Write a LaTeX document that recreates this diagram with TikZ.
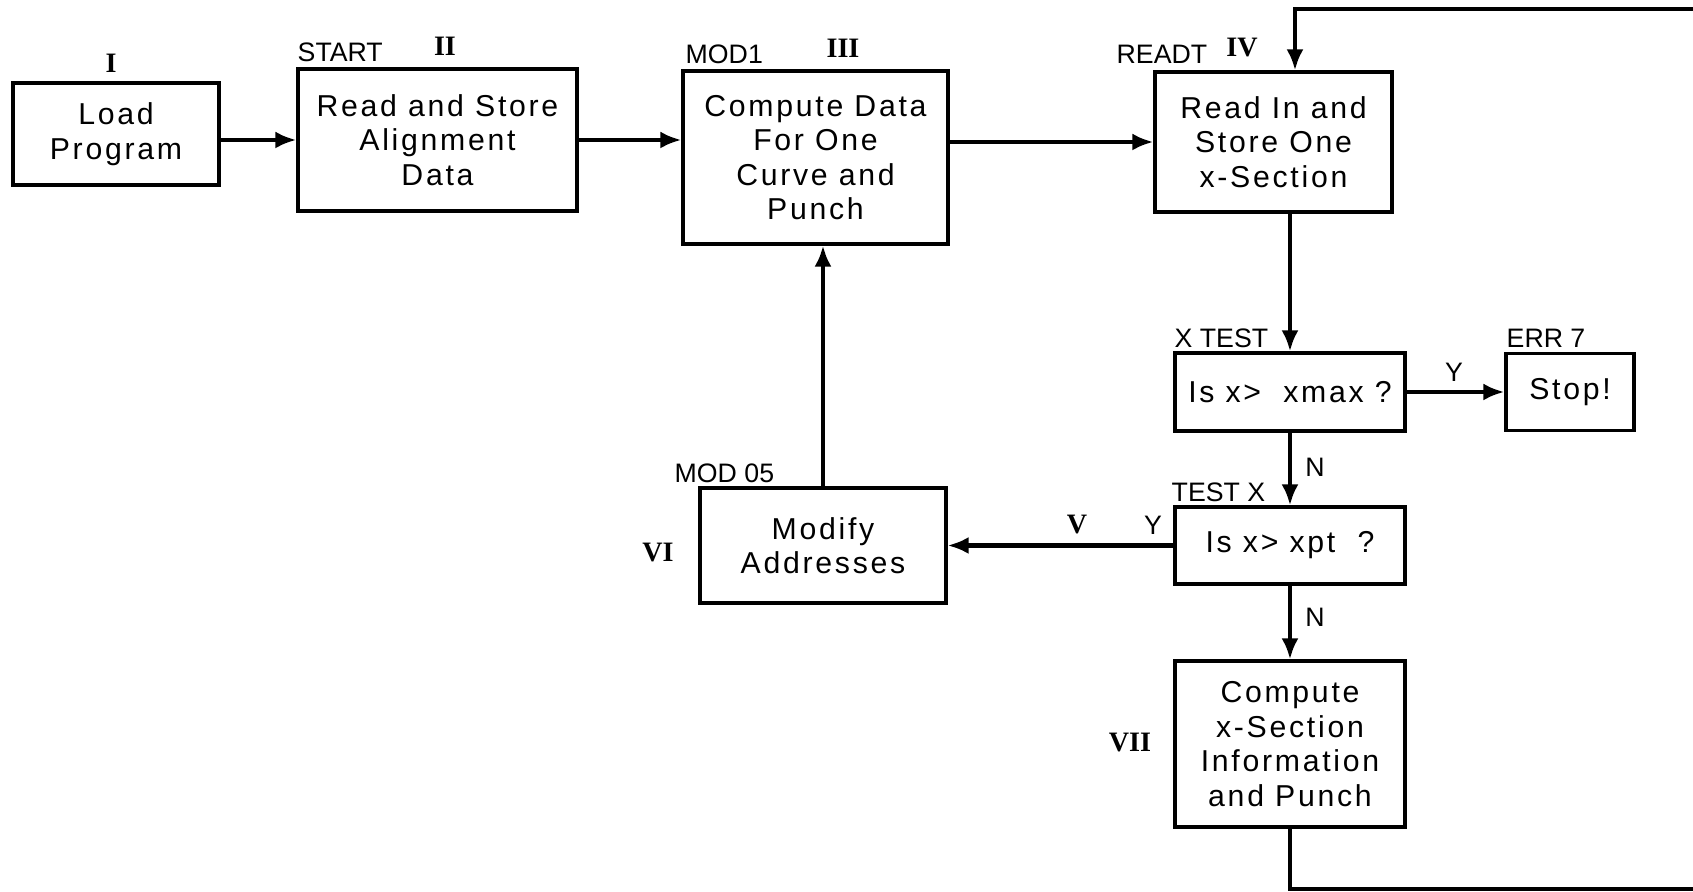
\documentclass[tikz,border=0pt]{standalone}
\usepackage{fontspec}
\setmainfont{Liberation Sans}
\newfontfamily\boxfont[LetterSpace=9]{Liberation Sans}
\newfontfamily\numfont{Liberation Serif}
\usetikzlibrary{arrows.meta}
\tikzset{
  box/.style={rectangle, draw=black, line width=0.9pt, align=center, inner sep=0pt, font=\boxfont\fontsize{8.6}{9.8}\selectfont},
  tag/.style={anchor=west, inner sep=0pt, font=\fontsize{7.6}{9}\selectfont},
  numeral/.style={inner sep=0pt, font=\numfont\bfseries\fontsize{8}{10}\selectfont},
  answer/.style={inner sep=0pt, font=\fontsize{7.6}{9}\selectfont},
  flow/.style={-{Latex[length=2.1mm, width=1.7mm]}, line width=1.3pt}
}

\begin{document}
\begin{tikzpicture}
\useasboundingbox (0,0) rectangle (16.93,8.92);

% Top row
\node[box, minimum width=2.06cm, minimum height=1.02cm] (load)   at (1.16,7.58)  {Load\\Program};
\node[box, minimum width=2.79cm, minimum height=1.42cm] (align)  at (4.375,7.52) {Read and Store\\Alignment\\Data};
\node[box, minimum width=2.65cm, minimum height=1.73cm] (curve)  at (8.155,7.345) {Compute Data\\For One\\Curve and\\Punch};
\node[box, minimum width=2.37cm, minimum height=1.40cm] (readt)  at (12.735,7.50) {Read In and\\Store One\\x-Section};

% Tests and lower blocks
\node[box, minimum width=2.30cm, minimum height=0.78cm] (xtest)  at (12.90,5.00) {Is x> \ xmax ?};
\node[box, minimum width=1.28cm, minimum height=0.77cm] (stop)   at (15.70,5.00) {Stop!};
\node[box, minimum width=2.30cm, minimum height=0.77cm] (testx)  at (12.90,3.465) {Is x> xpt \ ?};
\node[box, minimum width=2.46cm, minimum height=1.15cm] (modify) at (8.23,3.465) {Modify\\Addresses};
\node[box, minimum width=2.30cm, minimum height=1.66cm] (punch)  at (12.90,1.48) {Compute\\x-Section\\Information\\and Punch};

% Entry names and block numbers
\node[numeral] (numI)   at (1.11,8.29)  {I};
\node[tag]     (start)  at (2.97,8.40)  {START};
\node[numeral] (numII)  at (4.45,8.46)  {II};
\node[tag]     (modone) at (6.85,8.38)  {MOD1};
\node[numeral] (numIII) at (8.43,8.44)  {III};
\node[tag]     (rdt)    at (11.16,8.38) {READT};
\node[numeral] (numIV)  at (12.42,8.44) {IV};
\node[tag]     (xtst)   at (11.74,5.54) {X TEST};
\node[tag]     (err)    at (15.06,5.54) {ERR 7};
\node[tag]     (tstx)   at (11.71,4.00) {TEST X};
\node[tag]     (modfv)  at (6.74,4.19)  {MOD 05};
\node[numeral] (numVI)  at (6.58,3.39)  {VI};
\node[numeral] (numV)   at (10.77,3.67) {V};
\node[numeral] (numVII) at (11.30,1.49) {VII};

% Branch answers
\node[answer] (yesmax) at (14.54,5.20) {Y};
\node[answer] (nomax)  at (13.15,4.25) {N};
\node[answer] (yespt)  at (11.53,3.67) {Y};
\node[answer] (nopt)   at (13.15,2.75) {N};

% --- Flow ---
\draw[flow] (load.east |- align.west) -- (align.west);
\draw[flow] (align.east) -- (align.east -| curve.west);
\draw[flow] (curve.east |- readt.west) -- (readt.west);
\draw[flow] (readt.south -| xtest.north) -- (xtest.north);
\draw[flow] (xtest.east) -- (stop.west);
\draw[flow] (xtest.south) -- (testx.north);
\draw[flow] (testx.west) -- (modify.east);
\draw[flow] (modify.north) -- (modify.north |- curve.south);
\draw[flow] (testx.south) -- (punch.north);

% Return to next x-section, round the right edge
\coordinate (rightbot) at (17.2,0.03);
\coordinate (righttop) at (17.2,8.83);
\coordinate (feedin)   at (12.95,8.83);
\draw[flow] (punch.south) |- (rightbot) -- (righttop) -- (feedin) -- (feedin |- readt.north);

\end{tikzpicture}
\end{document}
